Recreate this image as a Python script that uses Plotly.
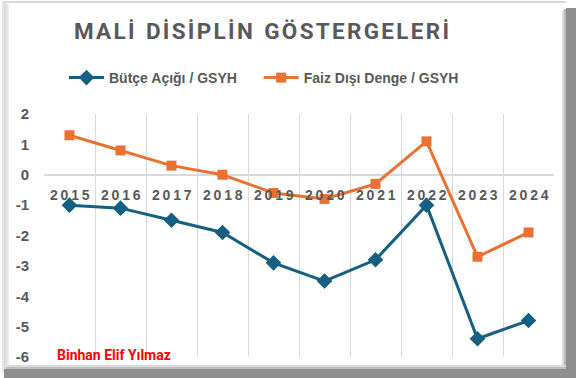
import plotly.graph_objects as go

years = ["2015", "2016", "2017", "2018", "2019", "2020", "2021", "2022", "2023", "2024"]
butce_acigi = [-1.0, -1.1, -1.5, -1.9, -2.9, -3.5, -2.8, -1.0, -5.4, -4.8]
faiz_disi = [1.3, 0.8, 0.3, 0.0, -0.6, -0.8, -0.3, 1.1, -2.7, -1.9]
y_ticks = [2, 1, 0, -1, -2, -3, -4, -5, -6]

TITLE = "MALİ DİSİPLİN GÖSTERGELERİ"
BLUE = "#156082"
ORANGE = "#E97132"
GRAY_TXT = "#595959"

W, H = 576, 378
L, R, T, B = 44, 22, 114, 21
PW, PH = W - L - R, H - T - B

def px(x):
    return (x - L) / PW

def py(y):
    return (H - B - y) / PH

def spaced(s, sp="\u2009", wsp="\u2009\u2009\u2009\u2009"):
    words = s.split(" ")
    return wsp.join(sp.join(w) for w in words)

xs = list(range(len(years)))

fig = go.Figure()
fig.add_trace(go.Scatter(
    x=xs, y=butce_acigi, name="<b>Bütçe Açığı / GSYH</b>\u2003\u2009", mode="lines+markers",
    line=dict(color=BLUE, width=3),
    marker=dict(symbol="diamond", size=12, color=BLUE),
))
fig.add_trace(go.Scatter(
    x=xs, y=faiz_disi, name="<b>Faiz Dışı Denge / GSYH</b>", mode="lines+markers",
    line=dict(color=ORANGE, width=3),
    marker=dict(symbol="square", size=10, color=ORANGE),
))

annotations = []
for i, yr in enumerate(years):
    annotations.append(dict(
        x=i, y=0, xref="x", yref="y", text="<b>" + spaced(yr) + "</b>", showarrow=False,
        yanchor="top", yshift=-10,
        font=dict(family="Liberation Sans, Arial", size=14, color=GRAY_TXT),
    ))
annotations.append(dict(
    x=px(261), y=py(31), xref="paper", yref="paper",
    text="<b>" + spaced(TITLE, "\u200a", "\u2002") + "</b>",
    showarrow=False, xanchor="center", yanchor="middle",
    font=dict(family="Roboto, Liberation Sans", size=22.5, color=GRAY_TXT),
))
annotations.append(dict(
    x=px(55), y=py(355), xref="paper", yref="paper", text="<b>Binhan Elif Yılmaz</b>",
    showarrow=False, xanchor="left", yanchor="middle",
    font=dict(family="Roboto, Liberation Sans", size=14, color="#FF0000"),
))

shapes = []
def rect(x0, y0, x1, y1, color):
    shapes.append(dict(type="rect", xref="paper", yref="paper",
                       x0=px(x0), x1=px(x1), y0=py(y1), y1=py(y0),
                       line=dict(width=0), fillcolor=color, layer="below"))

# frame / bevel
rect(2, 1, 566, 3, "#d6d6d6")
rect(2, 2, 4, 372, "#e6e6e6")
rect(4, 3, 6, 371, "#dadada")
rect(6, 4, 8, 370, "#e2e2e2")
rect(8, 5, 9, 369, "#eeeeee")
rect(562, 10, 564, 366, "#dcdcdc")
rect(564, 9, 566, 367, "#b8b8b8")
rect(566, 8, 576, 378, "#8e8e8e")
rect(8, 365, 566, 367, "#dcdcdc")
rect(6, 367, 566, 369, "#bdbdbd")
rect(4, 369, 576, 378, "#8e8e8e")

fig.update_layout(
    width=W, height=H,
    margin=dict(l=L, r=R, t=T, b=B, autoexpand=False),
    paper_bgcolor="white", plot_bgcolor="white",
    showlegend=True,
    legend=dict(orientation="h", x=px(264), xanchor="center", y=py(78), yanchor="middle",
                font=dict(family="Liberation Sans, Arial", size=14, color=GRAY_TXT),
                bgcolor="rgba(0,0,0,0)", itemwidth=35, traceorder="normal"),
    xaxis=dict(range=[-0.5, len(years) - 0.5], tickvals=[i - 0.5 for i in range(len(years) + 1)],
               showticklabels=False, showgrid=True, gridcolor="#d9d9d9", gridwidth=1,
               zeroline=False, showline=False, ticks=""),
    yaxis=dict(range=[-6, 2], tickvals=y_ticks, ticktext=["<b>%d</b>" % v for v in y_ticks],
               showgrid=False, zeroline=True, zerolinecolor="#d9d9d9", zerolinewidth=1.5,
               showline=False, ticks="", ticklabelstandoff=14,
               tickfont=dict(family="Liberation Sans, Arial", size=15, color=GRAY_TXT)),
    annotations=annotations,
    shapes=shapes,
)

fig.write_html("out.html", config={"displayModeBar": False},
               post_script="document.body.style.margin='0';document.body.style.padding='0';")
